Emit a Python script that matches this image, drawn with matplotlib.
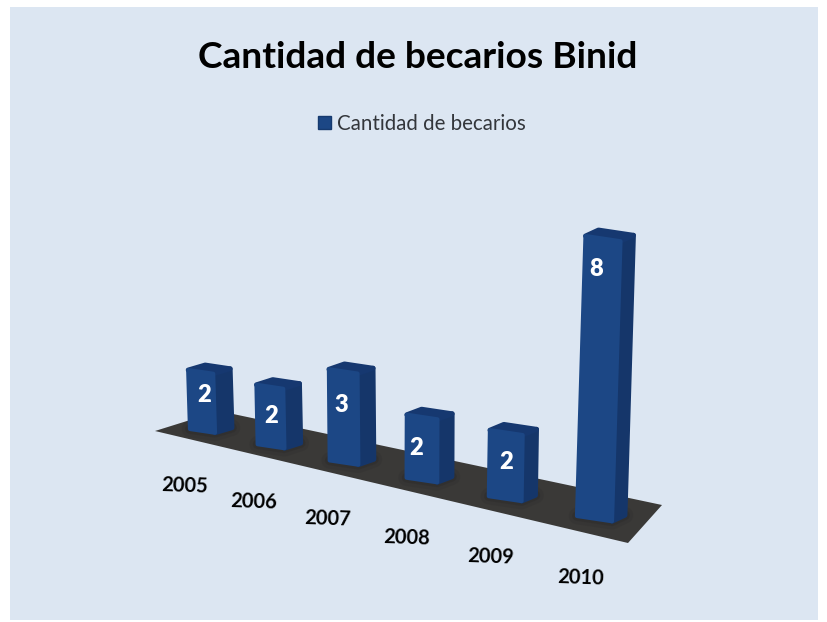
import matplotlib
matplotlib.use('Agg')
import matplotlib.pyplot as plt
from matplotlib.patches import Polygon, Rectangle, Patch
import numpy as np

years = ['2005', '2006', '2007', '2008', '2009', '2010']
becarios = [2, 2, 3, 2, 2, 8]
title = 'Cantidad de becarios Binid'
series_name = 'Cantidad de becarios'

bg_color = '#dce6f2'
front_color = '#1c4785'
side_color = '#15366a'
top_color = '#163870'
floor_color = '#3a3937'
shadow_color = '#2a2928'

# the picture is a fake 3d chart, everything goes through these screen pixel helpers
start = np.array([190.0, 429.0])
end = np.array([577.0, 516.0])
floor = [(155, 431), (628, 543), (662, 505), (219, 411)]
label_drop = [23, 29, 34, 31, 29, 30]
label_nudge = [3, 1, -2, -6, 0, -7]


def row_pos(i):
    t = i / (len(years) - 1)
    return t / (t + 1.18 * (1 - t))


def bar_faces(i, value):
    t = i / (len(years) - 1)
    u = row_pos(i)
    fl = start + (end - start) * u
    width = 25 + 10 * u
    fr = fl + np.array([width, width * 0.15])
    depth = np.array([17 - 4 * u, -5 - 1 * u])
    br = fr + depth
    bl = fl + depth
    scale = 29.5 + 5.5 * t ** 2
    h = value * scale
    lean = 0.03 * (fl[0] - 385) / 190

    def up(p):
        return p + np.array([lean * h, -h])

    front = [fl, fr, up(fr), up(fl)]
    side = [fr, br, up(br), up(fr)]
    top = [up(fl), up(fr), up(br), up(bl)]
    return fl, fr, br, bl, front, side, top


fig = plt.figure(figsize=(8.28, 6.22), dpi=100)
ax = fig.add_axes([0, 0, 1, 1])
ax.set_xlim(0, 828)
ax.set_ylim(622, 0)
ax.axis('off')

ax.add_patch(Rectangle((10, 7), 808, 613, fc=bg_color, ec='none', zorder=0))
ax.add_patch(Polygon(floor, closed=True, fc=floor_color, ec='none', zorder=1))

for i, value in enumerate(becarios):
    fl, fr, br, bl, front, side, top = bar_faces(i, value)
    # soft dark patch under the bar
    for lw, a in [(12, 0.2), (7, 0.35)]:
        ax.add_patch(Polygon([fl, fr, br, bl], closed=True, fc=shadow_color, ec=shadow_color,
                             lw=lw, alpha=a, joinstyle='round', zorder=2))
    ax.add_patch(Polygon(side, closed=True, fc=side_color, ec=side_color, lw=3.5,
                         joinstyle='round', zorder=3))
    ax.add_patch(Polygon(top, closed=True, fc=top_color, ec=top_color, lw=3.5,
                         joinstyle='round', zorder=3))
    ax.add_patch(Polygon(front, closed=True, fc=front_color, ec=front_color, lw=3,
                         joinstyle='round', zorder=4))

    mid = (front[3] + front[2]) / 2
    ax.text(mid[0] + label_nudge[i], mid[1] + label_drop[i], str(value), color='white', fontsize=17,
            fontweight='heavy', family='Lato', ha='center', va='center', zorder=5)

    u = row_pos(i)
    ax.text(fl[0] - 5 + 9 * u, fl[1] + 57 + 5 * u, years[i], color='black', fontsize=14.5,
            family='Lato', fontweight='bold', ha='center', va='center', rotation=-2, zorder=5)

ax.text(418, 58, title, color='black', fontsize=26.7, family='Lato', fontweight='bold',
        ha='center', va='center', zorder=5)

leg = ax.legend(handles=[Patch(fc=front_color, ec='#163a6f', label=series_name)],
                loc='center', bbox_to_anchor=(422, 124), bbox_transform=ax.transData,
                frameon=False, handlelength=0.6, handleheight=0.6, handletextpad=0.32,
                prop={'family': 'Lato', 'size': 14.8})
leg.get_texts()[0].set_color('#33363b')

fig.savefig('out.png', dpi=100)
